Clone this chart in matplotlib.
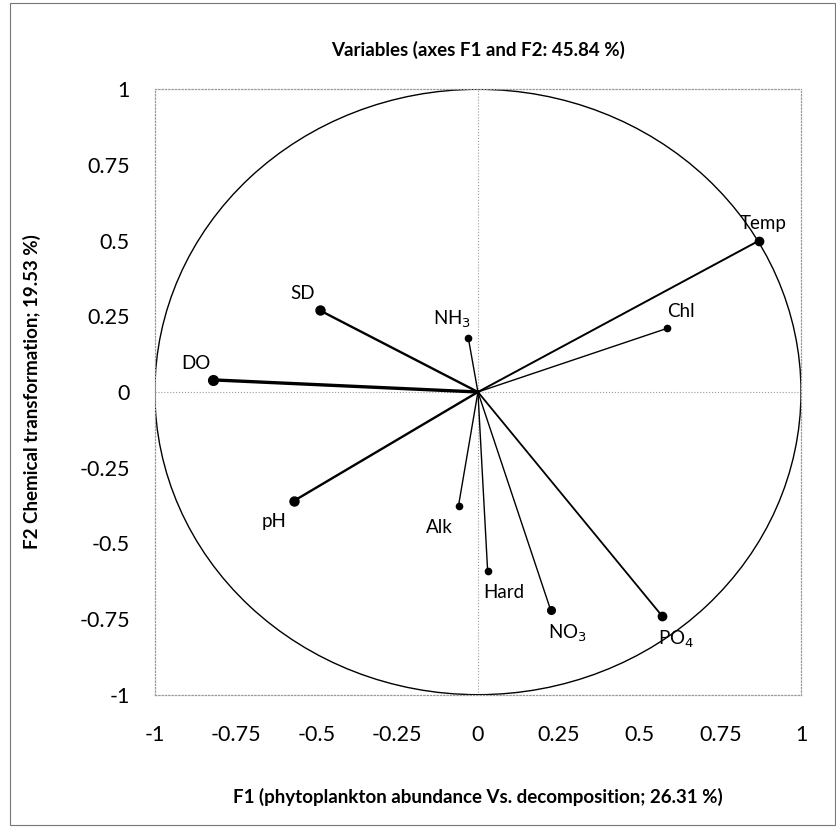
import numpy as np
import matplotlib
matplotlib.use('Agg')
import matplotlib.pyplot as plt
from matplotlib.patches import Ellipse, Rectangle

plt.rcParams['font.family'] = ['Lato', 'DejaVu Sans']

variables = ['Temp', 'Chl', 'SD', 'NH$_3$', 'DO', 'pH', 'Alk', 'Hard', 'NO$_3$', 'PO$_4$']
f1 = [0.87, 0.585, -0.49, -0.03, -0.82, -0.57, -0.06, 0.03, 0.225, 0.57]
f2 = [0.50, 0.21, 0.27, 0.18, 0.04, -0.36, -0.375, -0.59, -0.72, -0.74]

ticks = [-1, -0.75, -0.5, -0.25, 0, 0.25, 0.5, 0.75, 1]
tick_labels = ['-1', '-0.75', '-0.5', '-0.25', '0', '0.25', '0.5', '0.75', '1']

# where each label sits relative to its point (offset in points)
label_offsets = {'Temp': (3, 12), 'Chl': (10, 12), 'SD': (-12, 12), 'NH$_3$': (-12, 13),
                 'DO': (-12, 12), 'pH': (-14, -15), 'Alk': (-14, -16), 'Hard': (12, -16),
                 'NO$_3$': (12, -17), 'PO$_4$': (10, -17)}
line_widths = {'DO': 2.4, 'SD': 1.7, 'pH': 1.7, 'Temp': 1.4, 'PO$_4$': 1.3}
marker_sizes = {'DO': 7, 'SD': 6.5, 'pH': 6.5, 'Temp': 6, 'PO$_4$': 6, 'NO$_3$': 5.5}

fig = plt.figure(figsize=(8.37, 8.27), dpi=100)
ax = fig.add_axes([0.185, 0.160, 0.772, 0.732])

# correlation circle
ax.add_patch(Ellipse((0, 0), 2, 2, fill=False, edgecolor='black', lw=1.0, zorder=2))
ax.axhline(0, color='#9a9a9a', lw=0.8, ls=':', zorder=1)
ax.axvline(0, color='#9a9a9a', lw=0.8, ls=':', zorder=1)

for name, x, y in zip(variables, f1, f2):
    ax.plot([0, x], [0, y], color='black', lw=line_widths.get(name, 1.0), zorder=3)
    ax.plot(x, y, 'o', color='black', ms=marker_sizes.get(name, 4.5), zorder=4)
    ox, oy = label_offsets[name]
    ax.annotate(name, (x, y), xytext=(ox, oy), textcoords='offset points',
                ha='center', va='center', fontsize=13.5)

ax.set_xlim(-1, 1)
ax.set_ylim(-1, 1)
ax.set_xticks(ticks)
ax.set_xticklabels(tick_labels, fontsize=15.5)
ax.set_yticks(ticks)
ax.set_yticklabels(tick_labels, fontsize=15.5)
ax.tick_params(length=0, pad=22)
ax.tick_params(axis='y', pad=18)
for s in ax.spines.values():
    s.set_color('#9a9a9a')
    s.set_linestyle(':')
    s.set_linewidth(0.9)

fig.text(0.571, 0.940, 'Variables (axes F1 and F2: 45.84 %)', ha='center', va='center',
         fontsize=13.5, fontweight='bold')
fig.text(0.571, 0.036, 'F1 (phytoplankton abundance Vs. decomposition; 26.31 %)',
         ha='center', va='center', fontsize=13.5, fontweight='bold')
fig.text(0.038, 0.526, 'F2 Chemical transformation; 19.53 %)', ha='center', va='center',
         rotation=90, fontsize=13.5, fontweight='bold')

fig.add_artist(Rectangle((0.012, 0.002), 0.986, 0.994, transform=fig.transFigure,
                         fill=False, edgecolor='#777777', lw=0.8))

fig.savefig('out.png', dpi=100)
